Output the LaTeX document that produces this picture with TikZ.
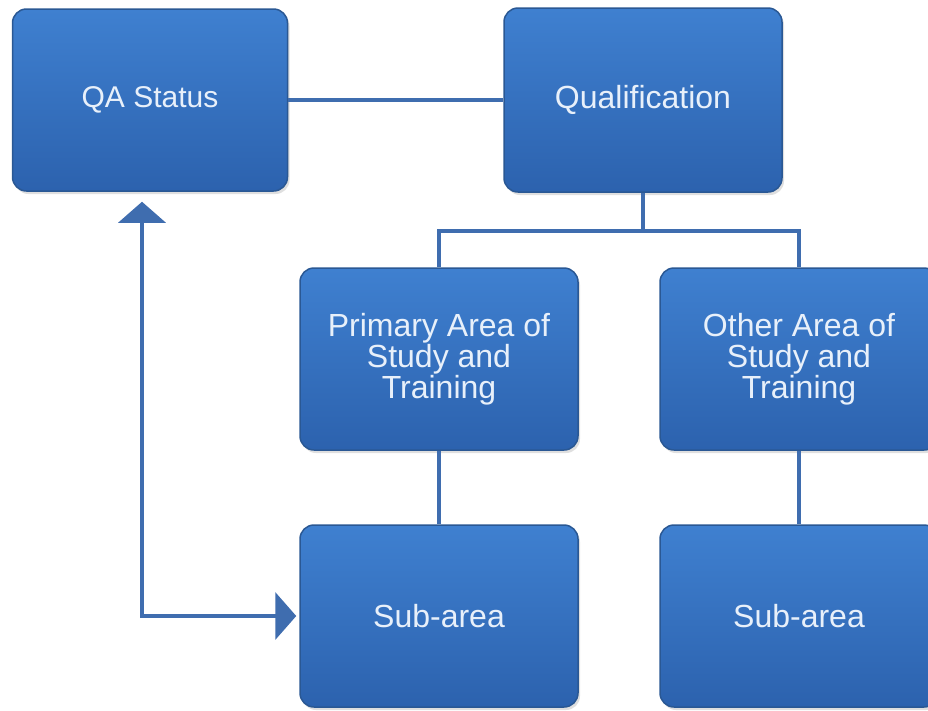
\documentclass[tikz,border=0pt]{standalone}
\usepackage{fontspec}
\setmainfont{Liberation Sans}
\usetikzlibrary{arrows.meta,shadows}

\begin{document}
\begin{tikzpicture}[x=1pt,y=-1pt,
    box/.style={draw=boxedge,line width=1.5pt,rounded corners=14pt,
      top color=boxtop,bottom color=boxbottom,text=boxtext,align=center,
      minimum width=278pt,minimum height=182pt,inner sep=0pt,
      font=\fontsize{32}{31}\selectfont,
      drop shadow={shadow xshift=2pt,shadow yshift=-3pt,opacity=0.25}},
    link/.style={draw=linkblue,line width=4pt},
    twoway/.style={link,{Triangle[width=47pt,length=21pt]}-{Triangle[width=47pt,length=21pt]}}]
  \definecolor{boxtop}{HTML}{3F80D0}
  \definecolor{boxbottom}{HTML}{2C62AE}
  \definecolor{boxedge}{HTML}{2A5894}
  \definecolor{boxtext}{HTML}{E8F0FA}
  \definecolor{linkblue}{HTML}{3F6DAF}

  \clip (0,0) rectangle (928,710);
  \fill[white] (0,0) rectangle (928,710);

  \node[box,minimum width=275pt,font=\fontsize{30}{31}\selectfont] (qa) at (150,100) {QA Status};
  \node[box,minimum height=184pt] (qual) at (643,100) {Qualification};
  \node[box] (prim) at (439,359) {Primary Area of\\Study and\\Training};
  \node[box] (other) at (799,359) {Other Area of\\Study and\\Training};
  \node[box] (subprim) at (439,616) {Sub-area};
  \node[box] (subother) at (799,616) {Sub-area};

  \draw[link] (qa.east) -- (qual.west);
  \draw[link] (qual.south) -- ++(0,38) coordinate (fork);
  \draw[link] (prim.north) |- (fork) -| (other.north);
  \draw[link] (prim.south) -- (subprim.north);
  \draw[link] (other.south) -- (subother.north);

  % back link from the sub-area to the status box
  \draw[twoway] ([xshift=-8pt,yshift=-10pt]qa.south) |- ([xshift=-3pt]subprim.west);
\end{tikzpicture}
\end{document}
